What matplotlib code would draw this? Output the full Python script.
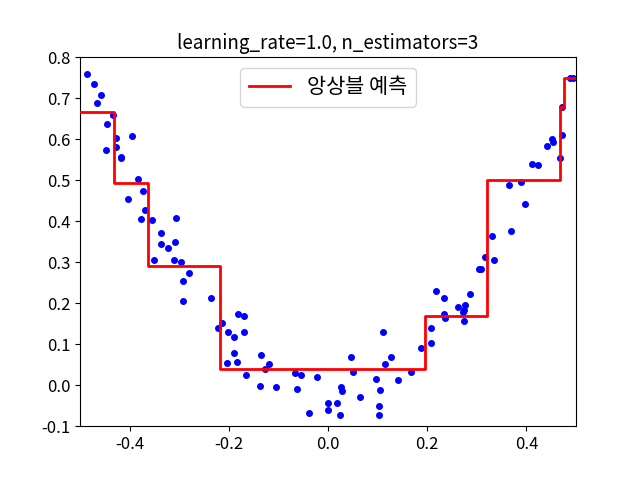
import numpy as np
import matplotlib
matplotlib.use("Agg")
import matplotlib.pyplot as plt

plt.rcParams["font.family"] = ["Noto Sans CJK KR", "DejaVu Sans"]
plt.rcParams["axes.unicode_minus"] = False

# 학습 데이터
x_train = [
    -0.485, -0.472, -0.457, -0.465, -0.434, -0.445, -0.427, -0.395, -0.447, -0.427,
    -0.417, -0.417, -0.383, -0.373, -0.403, -0.369, -0.378, -0.354, -0.307, -0.337,
    -0.337, -0.309, -0.322, -0.351, -0.311, -0.297, -0.281, -0.293, -0.293, -0.235,
    -0.214, -0.221, -0.181, -0.169, -0.201, -0.189, -0.169, -0.189, -0.203, -0.183,
    -0.165, -0.135, -0.119, -0.127, -0.137, -0.105, -0.067, -0.055, -0.063, -0.023,
    -0.039, -0.001, 0.001, 0.019, 0.025, 0.027, 0.029, 0.047, 0.051, 0.065,
    0.097, 0.105, 0.103, 0.102, 0.111, 0.115, 0.127, 0.141, 0.167, 0.187,
    0.208, 0.208, 0.217, 0.233, 0.233, 0.235, 0.263, 0.275, 0.277, 0.273,
    0.275, 0.287, 0.305, 0.309, 0.317, 0.335, 0.331, 0.369, 0.397, 0.365,
    0.389, 0.411, 0.423, 0.441, 0.451, 0.453, 0.467, 0.471, 0.471, 0.487,
    0.493,
]
y_train = [
    0.760, 0.735, 0.708, 0.689, 0.660, 0.637, 0.603, 0.609, 0.574, 0.581,
    0.557, 0.554, 0.503, 0.474, 0.454, 0.427, 0.405, 0.403, 0.408, 0.371,
    0.344, 0.349, 0.334, 0.305, 0.307, 0.300, 0.273, 0.254, 0.205, 0.212,
    0.153, 0.139, 0.175, 0.168, 0.129, 0.117, 0.129, 0.078, 0.055, 0.058,
    0.024, 0.073, 0.051, 0.041, -0.001, -0.003, 0.031, 0.024, -0.008, 0.021,
    -0.067, -0.042, -0.059, -0.042, -0.072, -0.003, -0.015, 0.070, 0.033, -0.028,
    0.016, -0.011, -0.050, -0.072, 0.129, 0.051, 0.068, 0.014, 0.033, 0.090,
    0.139, 0.104, 0.229, 0.214, 0.174, 0.165, 0.190, 0.185, 0.197, 0.178,
    0.158, 0.222, 0.283, 0.283, 0.312, 0.305, 0.364, 0.376, 0.442, 0.488,
    0.497, 0.540, 0.537, 0.584, 0.601, 0.593, 0.554, 0.610, 0.679, 0.750,
    0.750,
]

# 앙상블 예측 (계단 경계와 값)
step_edges = [-0.5, -0.432, -0.362, -0.218, 0.195, 0.321, 0.467, 0.475, 0.5]
step_levels = [0.667, 0.494, 0.290, 0.040, 0.170, 0.501, 0.679, 0.751]

fig, ax = plt.subplots(figsize=(6.4, 4.79), dpi=100)

ax.scatter(x_train, y_train, c="b", s=16, zorder=2)
ax.plot(step_edges, step_levels + [step_levels[-1]], drawstyle="steps-post",
        color="r", linewidth=2, label="앙상블 예측", zorder=3)

ax.set_xlim(-0.5, 0.5)
ax.set_ylim(-0.1, 0.8)
ax.set_title("learning_rate=1.0, n_estimators=3", fontsize=13.5)
ax.tick_params(labelsize=12)
ax.legend(loc="upper center", fontsize=15)

fig.savefig("out.png", dpi=100)
